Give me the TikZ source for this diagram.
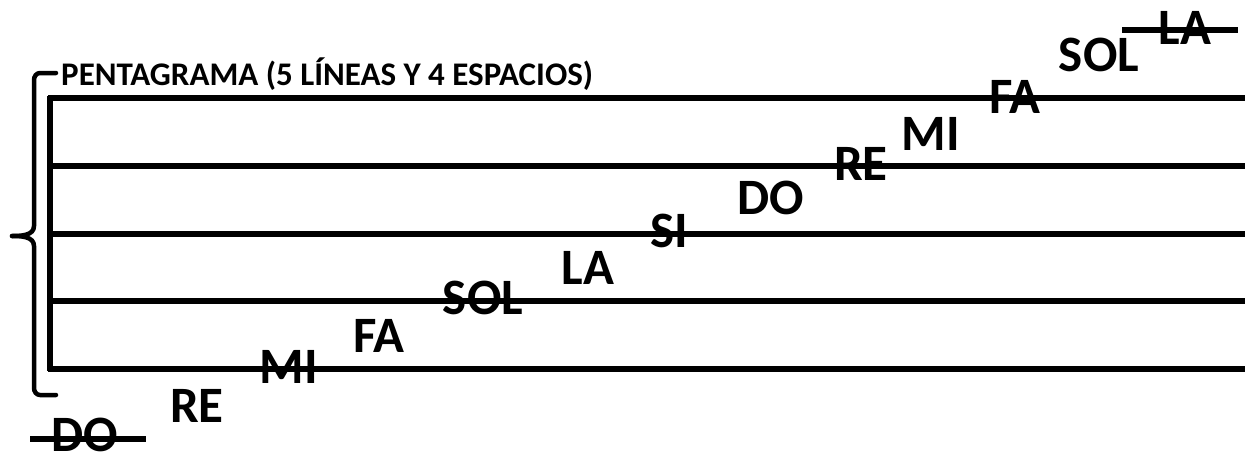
\documentclass[tikz,border=0pt]{standalone}
\usepackage{fontspec}
\setmainfont{Carlito}
\begin{document}
\begin{tikzpicture}[x=1pt,y=-1pt,
  staffline/.style={line width=5.5pt},
  ledger/.style={line width=6pt},
  bracepath/.style={line width=4.5pt, line cap=round, line join=round},
  note/.style={inner sep=0pt, font=\fontsize{51}{51}\selectfont\bfseries},
  titletext/.style={inner sep=0pt, anchor=west, font=\fontsize{33}{33}\selectfont\bfseries}]
\useasboundingbox (0,0) rectangle (1245,458);
% staff lines
\foreach \y [count=\i] in {98,166,234,301,369} {
  \coordinate (L\i) at (48,\y);
  \coordinate (R\i) at (1245,\y);
  \draw[staffline] (L\i) -- (R\i);
}
\draw[staffline] (50,96) -- (50,371);
% brace
\draw[bracepath] (56,73) -- (40,73) to[out=180,in=90] (34,80) -- (34,226) to[out=-90,in=0] (12,236);
\draw[bracepath] (12,236) to[out=0,in=90] (34,246) -- (34,388) to[out=-90,in=180] (40,395) -- (56,395);
% title
\node[titletext] (title) at (61,74) {PENTAGRAMA (5 LÍNEAS Y 4 ESPACIOS)};
% ledger lines
\coordinate (lA) at (30,439); \coordinate (lB) at (146,439);
\draw[ledger] (lA) -- (lB);
\coordinate (uA) at (1122,30); \coordinate (uB) at (1238,30);
\draw[ledger] (uA) -- (uB);
% notes
\node[note] (do1) at (85,435) {DO};
\node[note] (re1) at (197,406) {RE};
\node[note] (mi1) at (289,367) {MI};
\node[note] (fa1) at (379,336) {FA};
\node[note] (sol1) at (483,298) {SOL};
\node[note] (la1) at (588,268) {LA};
\node[note] (si1) at (669,231) {SI};
\node[note] (do2) at (771,198) {DO};
\node[note] (re2) at (861,164) {RE};
\node[note] (mi2) at (931,134) {MI};
\node[note] (fa2) at (1015,97) {FA};
\node[note] (sol2) at (1099,55) {SOL};
\node[note] (la2) at (1185,28) {LA};
\end{tikzpicture}
\end{document}
